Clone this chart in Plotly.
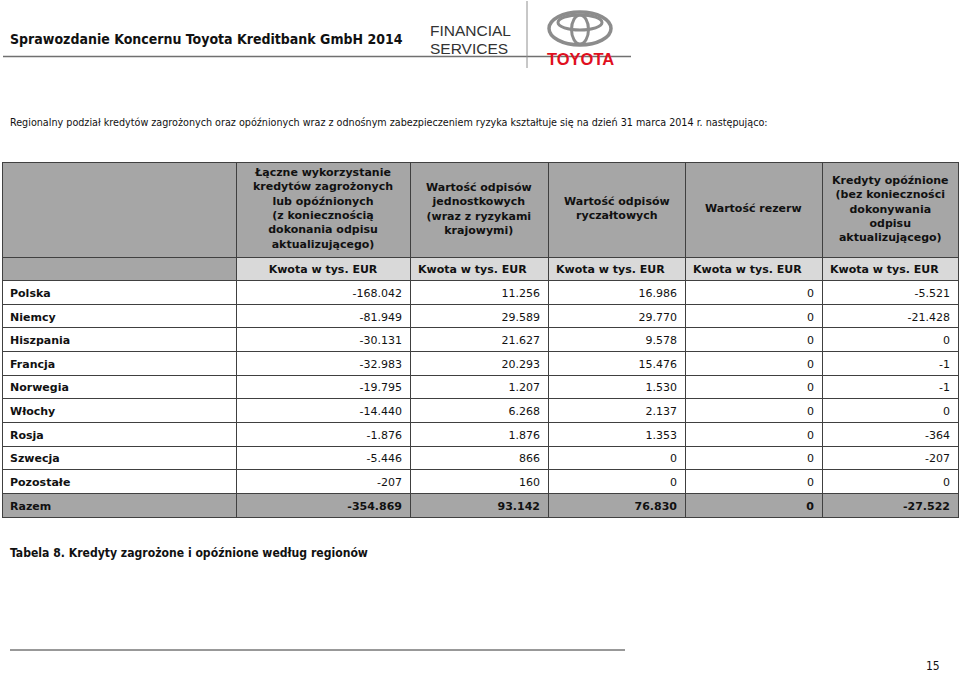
import plotly.graph_objects as go

W, H = 960, 674

# --- data -------------------------------------------------------------
countries = ['Polska', 'Niemcy', 'Hiszpania', 'Francja', 'Norwegia',
             'Włochy', 'Rosja', 'Szwecja', 'Pozostałe']
total_label = 'Razem'

headers = [
    '',
    'Łączne wykorzystanie<br>kredytów zagrożonych<br>lub opóźnionych<br>(z koniecznością<br>dokonania odpisu<br>aktualizującego)',
    'Wartość odpisów<br>jednostkowych<br>(wraz z ryzykami<br>krajowymi)',
    'Wartość odpisów<br>ryczałtowych',
    'Wartość rezerw',
    'Kredyty opóźnione<br>(bez konieczności<br>dokonywania<br>odpisu<br>aktualizującego)',
]
unit_label = 'Kwota w tys. EUR'

usage = [-168042, -81949, -30131, -32983, -19795, -14440, -1876, -5446, -207]
individual = [11256, 29589, 21627, 20293, 1207, 6268, 1876, 866, 160]
lump_sum = [16986, 29770, 9578, 15476, 1530, 2137, 1353, 0, 0]
provisions = [0, 0, 0, 0, 0, 0, 0, 0, 0]
overdue = [-5521, -21428, 0, -1, -1, 0, -364, -207, 0]

totals = [-354869, 93142, 76830, 0, -27522]

title = 'Sprawozdanie Koncernu Toyota Kreditbank GmbH 2014'
intro = ('Regionalny podział kredytów zagrożonych oraz opóźnionych wraz z odnośnym '
         'zabezpieczeniem ryzyka kształtuje się na dzień 31 marca 2014 r. następująco:')
caption = 'Tabela 8. Kredyty zagrożone i opóźnione według regionów'
page_no = '15'


def fmt(v):
    return f'{v:,}'.replace(',', '.')


def nb(s):
    # non-breaking spaces keep single-line cells at their declared height
    return s.replace(' ', '\u00a0')


def px(x):
    return x / W


def py(y):
    return 1 - y / H


DARK = '#a6a6a6'
LIGHT = '#d9d9d9'
WHITE = '#ffffff'
n = len(countries)

series = [usage, individual, lump_sum, provisions, overdue]
columns = [[''] + countries + [total_label]]
for vals, tot in zip(series, totals):
    columns.append([nb(unit_label)] + [fmt(v) for v in vals] + [fmt(tot)])

fill = [[DARK] + [WHITE] * n + [DARK]]
weights = [['bold'] * (n + 2)]
aligns = [['left'] * (n + 2)]
for i in range(len(series)):
    fill.append([LIGHT] + [WHITE] * n + [DARK])
    weights.append(['bold'] + ['normal'] * n + ['bold'])
    aligns.append(['center' if i == 0 else 'left'] + ['right'] * (n + 1))

TFONT = 'Tahoma, DejaVu Sans, sans-serif'
col_w = [234, 174, 138, 137, 137, 136]
tbl_left, tbl_top, head_h = 2, 162, 95

fig = go.Figure(go.Table(
    domain=dict(x=[px(tbl_left), px(tbl_left + sum(col_w))], y=[0, py(tbl_top)]),
    columnwidth=col_w,
    header=dict(
        values=[''] * len(headers),
        fill_color=DARK,
        line=dict(color='#404040', width=1),
        height=head_h,
    ),
    cells=dict(
        values=columns,
        fill_color=fill,
        line=dict(color='#404040', width=1),
        align='right',
        height=23.64,
        font=dict(family=TFONT, size=11, color='#111111', weight='normal'),
    ),
))
# per-cell weight/alignment: plotly.js accepts 2D arrays here, the python validator does not
fig._data[0]['cells']['font']['weight'] = weights
fig._data[0]['cells']['align'] = aligns

# header labels, centred line by line over their columns
annotations = []
edge = tbl_left
for w, label in zip(col_w, headers):
    if label:
        annotations.append(dict(text=label, x=px(edge + w / 2), y=py(tbl_top + head_h / 2 - 1),
                                xanchor='center', align='center',
                                font=dict(family=TFONT, size=11, color='#111111', weight='bold')))
    edge += w

COND = 'DejaVu Sans Condensed, DejaVu Sans, sans-serif'
annotations += [
    dict(text=title, x=px(8), y=py(39), font=dict(family=COND, size=14, color='#111111', weight='bold')),
    dict(text='FINANCIAL', x=px(428), y=py(31), font=dict(family='Liberation Sans, Arial', size=15.5, color='#333333')),
    dict(text='SERVICES', x=px(428), y=py(48), font=dict(family='Liberation Sans, Arial', size=15.5, color='#333333')),
    dict(text='TOYOTA', x=px(580), y=py(59), xanchor='center',
         font=dict(family='Liberation Sans, Arial', size=16.5, color='#e0101e', weight='bold')),
    dict(text=intro, x=px(8), y=py(122), font=dict(family=COND, size=10.7, color='#111111')),
    dict(text=caption, x=px(8), y=py(553), font=dict(family=COND, size=12.1, color='#111111', weight='bold')),
    dict(text=page_no, x=px(933), y=py(666), xanchor='center', font=dict(family=COND, size=12, color='#111111')),
]
for a in annotations:
    a.setdefault('xanchor', 'left')
    a.update(xref='paper', yref='paper', yanchor='middle', showarrow=False)

shapes = [
    # header rule and divider
    dict(type='line', x0=px(3), x1=px(631), y0=py(56.5), y1=py(56.5), line=dict(color='#707070', width=1.5)),
    dict(type='line', x0=px(527), x1=px(527), y0=py(1), y1=py(68), line=dict(color='#909090', width=1)),
    # emblem
    dict(type='circle', x0=px(549), x1=px(611), y0=py(12), y1=py(45), line=dict(color='#8c8c8c', width=3.5)),
    dict(type='circle', x0=px(558), x1=px(602), y0=py(15), y1=py(30), line=dict(color='#8c8c8c', width=3)),
    dict(type='circle', x0=px(571.5), x1=px(588.5), y0=py(15), y1=py(44), line=dict(color='#8c8c8c', width=3)),
    # footer rule
    dict(type='line', x0=px(10), x1=px(625), y0=py(650), y1=py(650), line=dict(color='#333333', width=1)),
]
for s in shapes:
    s.update(xref='paper', yref='paper')

fig.update_layout(
    width=W, height=H,
    margin=dict(l=0, r=0, t=0, b=0),
    paper_bgcolor='white',
    plot_bgcolor='white',
    annotations=annotations,
    shapes=shapes,
    showlegend=False,
)

fig.write_html('out.html', config={'displayModeBar': False},
               post_script="document.body.style.margin = '0';")
